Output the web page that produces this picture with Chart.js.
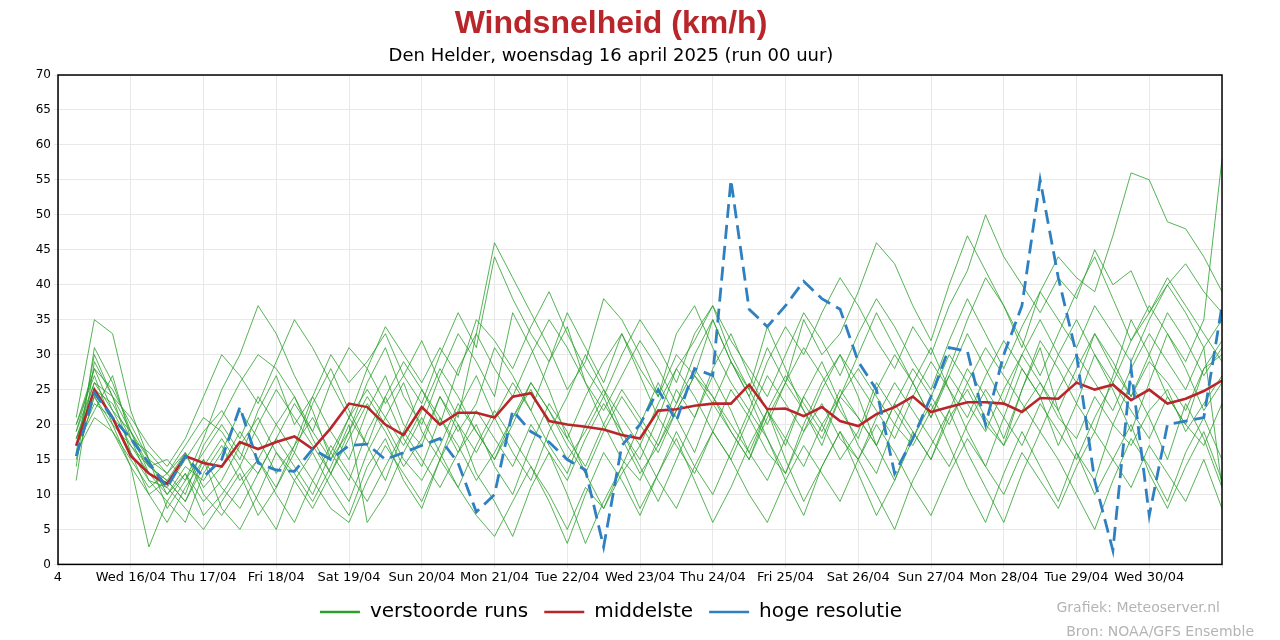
<!DOCTYPE html>
<html>
<head>
<meta charset="utf-8">
<script src="https://cdn.jsdelivr.net/npm/chart.js@4/dist/chart.umd.min.js"></script>
<style>
  body { margin: 0; background: #fff; }
  #wrap { width: 1280px; height: 640px; }
</style>
</head>
<body>
<div id="wrap"><canvas id="myChart"></canvas></div>
<script>
// uren vanaf 15/04 00 uur, elke 6 uur
const hours = [];
for (let k = 1; k <= 64; k++) hours.push(k * 6);

const dayLabels = ['4', 'Wed 16/04', 'Thu 17/04', 'Fri 18/04', 'Sat 19/04', 'Sun 20/04', 'Mon 21/04',
  'Tue 22/04', 'Wed 23/04', 'Thu 24/04', 'Fri 25/04', 'Sat 26/04', 'Sun 27/04', 'Mon 28/04',
  'Tue 29/04', 'Wed 30/04', ''];

// middelste (ensemble gemiddelde)
const middelste = [17,25,21,15.5,13,11.5,15.5,14.5, 14,17.5,16.5,17.5,18.3,16.5,19.5,23,
  22.5,20,18.5,22.5,20,21.7,21.7,21, 24,24.5,20.5,20,19.7,19.3,18.5,18,
  22,22.2,22.7,23,23,25.7,22.2,22.3, 21.2,22.5,20.5,19.8,21.5,22.5,24,21.8,
  22.5,23.2,23.2,23,21.8,23.8,23.7,26, 25,25.7,23.5,25,23,23.7,24.8,26.3];

// hoge resolutie run
const hogeResolutie = [15.5,24.5,21,18,14.5,11,15.5,12.5, 15,22.5,14.5,13.5,13.3,16.5,15,17,
  17.2,15,16,17,18,14.5,7.5,10, 22,19,17.5,15,13.5,2.5,17,20,
  25,20.5,28,27,55,36.5,34,37, 40.5,38,36.5,29,25,13,18,24,
  31,30.5,20,30,37,55,41,30, 12,2,28,7,20,20.5,21,37];

// verstoorde runs (ensemble leden)
const leden = [
  [18,26,22,17,13,10,14,12, 16,22,18,13,17,24,19,15, 22,27,20,17,24,19,23,31, 27,22,29,34,26,20,15,12, 18,25,21,28,33,27,22,17, 24,20,15,19,26,22,18,24, 30,26,21,17,25,32,28,23, 19,27,35,30,24,20,28,32],
  [16,30,24,19,14,12,9,15, 11,8,13,18,14,10,16,21, 17,12,19,25,21,16,20,14, 10,17,23,19,13,8,14,20, 26,21,16,23,29,24,18,13, 20,26,30,24,17,12,19,15, 22,28,24,18,25,31,22,16, 12,20,26,21,15,23,18,11],
  [21,35,33,22,15,8,12,18, 25,30,37,33,27,22,15,19, 26,31,24,20,27,33,29,24, 36,31,25,18,24,29,33,27, 21,28,32,37,30,25,34,28, 22,17,24,30,36,31,26,21, 28,35,41,37,32,27,33,39, 44,38,32,36,41,37,33,29],
  [15,24,19,14,2.5,9,13,7, 10,14,9,5,12,16,11,7, 14,18,12,8,15,20,13,9, 4,11,16,10,3,9,14,8, 13,18,12,6,11,17,22,15, 9,14,19,13,7,12,18,23, 17,11,6,13,19,14,9,16, 10,15,20,13,8,14,19,12],
  [19,28,25,20,15,13,17,21, 19,15,22,27,20,24,30,26, 29,33,27,23,30,36,31,44, 38,33,29,36,31,26,33,28, 24,30,27,35,29,24,31,26, 35,30,33,39,46,43,37,32, 40,47,42,37,31,39,44,41, 39,47,56,55,49,48,44,39],
  [17,22,27,18,12,9,6,13, 17,12,15,20,24,18,13,9, 16,21,26,19,15,22,27,21, 16,12,19,24,30,25,19,14, 9,15,21,27,22,16,12,18, 24,29,23,17,13,20,26,31, 25,19,14,21,28,24,17,23, 30,25,19,26,33,28,22,26],
  [12,29,24,16,10,6,11,15, 8,5,10,16,13,9,14,20, 6,10,16,21,16,11,17,22, 18,14,9,3,10,16,12,7, 13,19,14,10,16,22,18,12, 7,14,19,15,10,5,12,17, 22,16,11,6,13,19,15,10, 5,12,18,14,9,16,21,15],
  [18,25,23,18,16,13,10,17, 21,26,30,28,24,19,26,31, 28,23,27,32,26,21,33,46, 41,36,31,25,29,38,35,30, 24,33,37,31,26,22,29,34, 30,36,41,37,32,28,34,30, 37,42,50,44,40,36,41,38, 45,40,42,36,40,43,39,36],
  [20,27,20,14,10,12,16,11, 14,19,15,11,17,21,16,12, 19,24,18,14,21,17,12,16, 21,25,20,15,19,24,18,13, 17,22,27,24,19,15,22,18, 14,20,24,21,17,23,19,15, 21,25,20,17,22,26,21,18, 24,20,17,22,25,19,23,27],
  [14,31,26,19,13,11,15,19, 22,18,24,20,16,23,28,22, 17,24,29,25,20,28,33,28, 24,30,35,31,26,22,27,32, 28,23,30,35,29,25,20,26, 31,27,22,18,25,30,26,21, 27,33,28,23,30,35,30,26, 33,29,24,30,36,32,27,31],
  [17,23,21,16,12,11,8,5, 9,13,7,11,16,12,8,6, 12,17,13,9,15,11,7,4, 9,14,10,5,11,8,13,17, 12,8,14,19,15,10,6,12, 17,13,9,15,20,16,11,7, 13,18,14,10,16,12,8,14, 19,15,11,17,13,9,15,8],
  [19,26,24,21,17,14,18,24, 30,27,23,29,35,31,26,21, 28,34,30,26,31,27,35,32, 28,34,39,33,28,24,30,35, 31,26,33,37,32,28,24,30, 36,32,27,33,38,34,29,25, 32,38,33,28,34,39,35,31, 37,33,29,35,40,36,31,35],
  [16,21,19,15,11,13,16,10, 7,11,15,10,6,12,17,13, 9,14,19,15,11,16,22,18, 14,20,16,12,18,23,19,15, 21,17,13,19,25,21,16,13, 19,23,18,15,21,26,22,18, 14,20,25,21,17,23,19,15, 21,26,22,18,24,20,17,23],
  [18,24,20,17,14,15,12,16, 20,16,13,18,23,19,15,21, 25,21,17,22,28,24,19,15, 21,26,22,17,13,19,24,20, 16,22,27,23,19,15,21,26, 22,18,24,28,24,20,17,22, 27,23,19,25,30,26,22,28, 33,28,24,29,26,22,28,30],
  [20,28,22,19,15,10,13,9, 12,17,21,16,12,8,13,18, 23,19,14,18,24,20,16,21, 26,22,17,13,20,25,21,17, 23,28,24,19,15,21,27,23, 19,25,30,26,22,18,24,29, 25,21,27,32,28,24,30,35, 30,26,32,37,33,29,35,58],
  [17,25,21,18,14,12,9,14, 18,14,20,25,21,17,13,19, 24,20,15,12,17,23,19,15, 20,26,22,18,14,20,25,21, 17,23,28,24,20,16,22,27, 23,19,25,21,17,23,28,24, 20,26,31,27,23,19,25,30, 26,22,28,33,29,25,31,11]
];

const toXY = arr => arr.map((v, i) => ({ x: hours[i], y: v }));

const datasets = leden.map((l, i) => ({
  label: i === 0 ? 'verstoorde runs' : '',
  data: toXY(l),
  borderColor: '#2ca02c',
  borderWidth: 0.8,
  pointRadius: 0,
  order: 3
}));
datasets.push({
  label: 'middelste',
  data: toXY(middelste),
  borderColor: '#b8262b',
  borderWidth: 2.6,
  pointRadius: 0,
  order: 2
});
datasets.push({
  label: 'hoge resolutie',
  data: toXY(hogeResolutie),
  borderColor: '#2f80c0',
  borderWidth: 2.8,
  borderDash: [14, 7],
  pointRadius: 0,
  order: 1
});

// kader + bronvermelding
const extras = {
  id: 'extras',
  afterDraw(chart) {
    const c = chart.ctx, a = chart.chartArea;
    c.save();
    c.strokeStyle = '#000';
    c.lineWidth = 1.5;
    c.strokeRect(a.left, a.top, a.right - a.left, a.bottom - a.top);
    c.fillStyle = '#b4b4b4';
    c.font = '14px "DejaVu Sans"';
    c.textAlign = 'right';
    c.fillText('Grafiek: Meteoserver.nl', 1220, 608);
    c.fillText('Bron: NOAA/GFS Ensemble', 1254, 632);
    c.restore();
  }
};

Chart.defaults.font.family = '"DejaVu Sans", sans-serif';
Chart.defaults.color = '#000';

new Chart(document.getElementById('myChart'), {
  type: 'line',
  data: { datasets },
  plugins: [extras],
  options: {
    responsive: true,
    maintainAspectRatio: false,
    animation: false,
    layout: { padding: { left: 0, right: 58, top: 5, bottom: 8 } },
    scales: {
      x: {
        type: 'linear',
        min: 0,
        max: 384,
        grid: { color: '#e8e8e8', drawTicks: true, tickLength: 4 },
        ticks: {
          stepSize: 24,
          autoSkip: false,
          maxRotation: 0,
          font: { size: 13 },
          padding: 1,
          callback: v => dayLabels[Math.round(v / 24)]
        }
      },
      y: {
        min: 0,
        max: 70,
        afterFit: s => { s.width = 58; },
        grid: { color: '#e8e8e8', tickLength: 4 },
        ticks: { stepSize: 5, font: { size: 12 }, padding: 3 }
      }
    },
    plugins: {
      title: {
        display: true,
        text: 'Windsnelheid (km/h)',
        color: '#b8262b',
        font: { family: '"Liberation Sans", sans-serif', size: 32, weight: 'bold' },
        padding: { top: 0, bottom: 2 }
      },
      subtitle: {
        display: true,
        text: 'Den Helder, woensdag 16 april 2025 (run 00 uur)',
        color: '#000',
        font: { size: 18 },
        padding: { bottom: 8 }
      },
      legend: {
        position: 'bottom',
        labels: {
          filter: item => item.text !== '',
          sort: (a, b) => a.datasetIndex - b.datasetIndex,
          generateLabels: chart => Chart.defaults.plugins.legend.labels.generateLabels(chart)
            .map(l => Object.assign(l, { lineWidth: 2.6, lineDash: [] })),
          usePointStyle: true,
          pointStyle: 'line',
          pointStyleWidth: 40,
          boxHeight: 3,
          font: { size: 20 },
          color: '#000',
          padding: 16
        }
      },
      tooltip: { enabled: false }
    }
  }
});
</script>
</body>
</html>
